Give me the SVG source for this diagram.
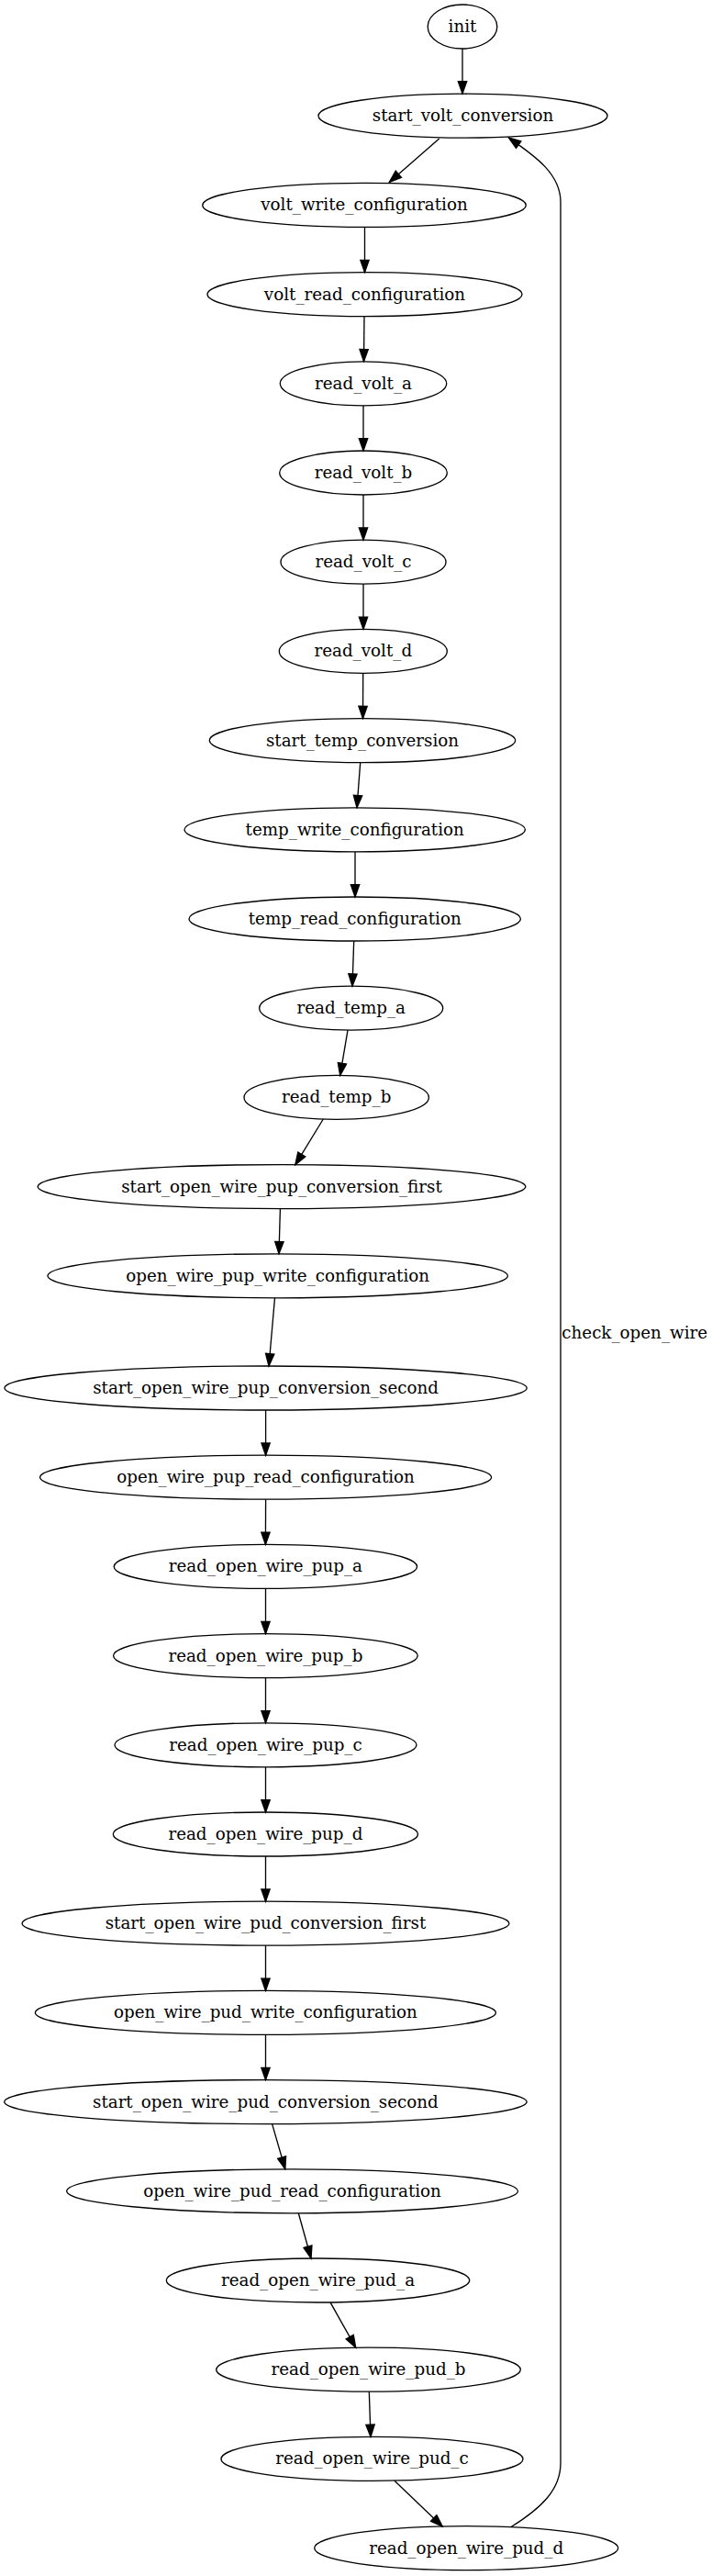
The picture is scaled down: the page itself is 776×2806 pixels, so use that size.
<svg xmlns="http://www.w3.org/2000/svg" width="776" height="2806" viewBox="0 0 776 2806">
<style>
.node ellipse{fill:none;stroke:#000;stroke-width:1.33}
text{font-family:"DejaVu Serif",serif;font-size:18.3px;fill:#000}
.node text{text-anchor:middle}
.edge path{fill:none;stroke:#000;stroke-width:1.33;marker-end:url(#arrow)}
</style>
<defs>
<marker id="arrow" markerUnits="userSpaceOnUse" markerWidth="16" markerHeight="12" refX="13.3" refY="4.67" orient="auto" viewBox="-1 -1 16 12">
<path d="M0,0 L13.3,4.67 L0,9.33 Z" fill="#000" stroke="#000" stroke-width="1.33"/>
</marker>
</defs>
<rect width="776" height="2806" fill="#fff"/>
<g id="edges" class="edge">
<path d="M504,53 L504,102"/>
<path d="M478.7,151 L424.3,198.5"/>
<path d="M397.5,247.4 L397.5,296.6"/>
<path d="M397,344.6 L396.5,393.8"/>
<path d="M396,441.8 L396,491"/>
<path d="M396,539 L396,588.2"/>
<path d="M396,636.2 L396,685.4"/>
<path d="M395.7,733.4 L395.5,782.6"/>
<path d="M392.7,830.6 L389,879.8"/>
<path d="M387,927.8 L387,977"/>
<path d="M385.7,1025 L384,1074.2"/>
<path d="M379,1122.2 L370.7,1171.4"/>
<path d="M352.3,1219 L321.8,1268.8"/>
<path d="M305.4,1316.6 L304,1365.8"/>
<path d="M299.5,1413.8 L293,1488"/>
<path d="M289.6,1536 L289.6,1585.2"/>
<path d="M289.6,1633.2 L289.4,1682.4"/>
<path d="M289.5,1730.4 L289.5,1779.6"/>
<path d="M289.5,1827.6 L289.5,1876.8"/>
<path d="M289.5,1924.8 L289.5,1974"/>
<path d="M289.5,2022 L289.5,2071.2"/>
<path d="M289.5,2119.2 L289.5,2168.4"/>
<path d="M289.5,2216.4 L289.5,2265.6"/>
<path d="M296.6,2313.6 L310.8,2362.8"/>
<path d="M325.3,2410.8 L339,2460"/>
<path d="M360,2507.8 L387.7,2557.2"/>
<path d="M402.3,2605.2 L404,2654.4"/>
<path d="M430,2702.3 L482.3,2752.2"/>
<path d="M556.7,2752.7 C590,2732 611,2712 611,2683 L611,220 C611,188 580,168 554.3,150"/>
<text x="612.3" y="1458">check_open_wire</text>
</g>
<g id="init" class="node"><ellipse cx="504" cy="29" rx="37.8" ry="24"/><text x="504" y="35">init</text></g>
<g id="start_volt_conversion" class="node"><ellipse cx="504.5" cy="126.2" rx="157.5" ry="24"/><text x="504.5" y="132.2">start_volt_conversion</text></g>
<g id="volt_write_configuration" class="node"><ellipse cx="397" cy="223.4" rx="176.3" ry="24"/><text x="397" y="229.4">volt_write_configuration</text></g>
<g id="volt_read_configuration" class="node"><ellipse cx="397.5" cy="320.6" rx="171.5" ry="24"/><text x="397.5" y="326.6">volt_read_configuration</text></g>
<g id="read_volt_a" class="node"><ellipse cx="396" cy="417.8" rx="90.7" ry="24"/><text x="396" y="423.8">read_volt_a</text></g>
<g id="read_volt_b" class="node"><ellipse cx="396" cy="515" rx="91.3" ry="24"/><text x="396" y="521">read_volt_b</text></g>
<g id="read_volt_c" class="node"><ellipse cx="396" cy="612.2" rx="90" ry="24"/><text x="396" y="618.2">read_volt_c</text></g>
<g id="read_volt_d" class="node"><ellipse cx="395.8" cy="709.4" rx="91.5" ry="24"/><text x="395.8" y="715.4">read_volt_d</text></g>
<g id="start_temp_conversion" class="node"><ellipse cx="395" cy="806.6" rx="166.7" ry="24"/><text x="395" y="812.6">start_temp_conversion</text></g>
<g id="temp_write_configuration" class="node"><ellipse cx="386.7" cy="903.8" rx="185.7" ry="24"/><text x="386.7" y="909.8">temp_write_configuration</text></g>
<g id="temp_read_configuration" class="node"><ellipse cx="386.7" cy="1001" rx="180.7" ry="24"/><text x="386.7" y="1007">temp_read_configuration</text></g>
<g id="read_temp_a" class="node"><ellipse cx="382.7" cy="1098.2" rx="100" ry="24"/><text x="382.7" y="1104.2">read_temp_a</text></g>
<g id="read_temp_b" class="node"><ellipse cx="366.7" cy="1195.4" rx="100.7" ry="24"/><text x="366.7" y="1201.4">read_temp_b</text></g>
<g id="start_open_wire_pup_conversion_first" class="node"><ellipse cx="307" cy="1292.6" rx="265.8" ry="24"/><text x="307" y="1298.6">start_open_wire_pup_conversion_first</text></g>
<g id="open_wire_pup_write_configuration" class="node"><ellipse cx="302.7" cy="1389.8" rx="250.7" ry="24"/><text x="302.7" y="1395.8">open_wire_pup_write_configuration</text></g>
<g id="start_open_wire_pup_conversion_second" class="node"><ellipse cx="289.6" cy="1512" rx="284.6" ry="24"/><text x="289.6" y="1518">start_open_wire_pup_conversion_second</text></g>
<g id="open_wire_pup_read_configuration" class="node"><ellipse cx="289.6" cy="1609.2" rx="246" ry="24"/><text x="289.6" y="1615.2">open_wire_pup_read_configuration</text></g>
<g id="read_open_wire_pup_a" class="node"><ellipse cx="289.4" cy="1706.4" rx="165.2" ry="24"/><text x="289.4" y="1712.4">read_open_wire_pup_a</text></g>
<g id="read_open_wire_pup_b" class="node"><ellipse cx="289.4" cy="1803.6" rx="165.8" ry="24"/><text x="289.4" y="1809.6">read_open_wire_pup_b</text></g>
<g id="read_open_wire_pup_c" class="node"><ellipse cx="289.5" cy="1900.8" rx="164.5" ry="24"/><text x="289.5" y="1906.8">read_open_wire_pup_c</text></g>
<g id="read_open_wire_pup_d" class="node"><ellipse cx="289.4" cy="1998" rx="166.1" ry="24"/><text x="289.4" y="2004">read_open_wire_pup_d</text></g>
<g id="start_open_wire_pud_conversion_first" class="node"><ellipse cx="289.5" cy="2095.2" rx="265.4" ry="24"/><text x="289.5" y="2101.2">start_open_wire_pud_conversion_first</text></g>
<g id="open_wire_pud_write_configuration" class="node"><ellipse cx="289.4" cy="2192.4" rx="251" ry="24"/><text x="289.4" y="2198.4">open_wire_pud_write_configuration</text></g>
<g id="start_open_wire_pud_conversion_second" class="node"><ellipse cx="289.4" cy="2289.6" rx="284.7" ry="24"/><text x="289.4" y="2295.6">start_open_wire_pud_conversion_second</text></g>
<g id="open_wire_pud_read_configuration" class="node"><ellipse cx="318.6" cy="2386.8" rx="245.9" ry="24"/><text x="318.6" y="2392.8">open_wire_pud_read_configuration</text></g>
<g id="read_open_wire_pud_a" class="node"><ellipse cx="346.5" cy="2484" rx="165.2" ry="24"/><text x="346.5" y="2490">read_open_wire_pud_a</text></g>
<g id="read_open_wire_pud_b" class="node"><ellipse cx="401.5" cy="2581.2" rx="165.8" ry="24"/><text x="401.5" y="2587.2">read_open_wire_pud_b</text></g>
<g id="read_open_wire_pud_c" class="node"><ellipse cx="405.5" cy="2678.4" rx="164.5" ry="24"/><text x="405.5" y="2684.4">read_open_wire_pud_c</text></g>
<g id="read_open_wire_pud_d" class="node"><ellipse cx="508.2" cy="2775.6" rx="165.5" ry="24"/><text x="508.2" y="2781.6">read_open_wire_pud_d</text></g>
</svg>
